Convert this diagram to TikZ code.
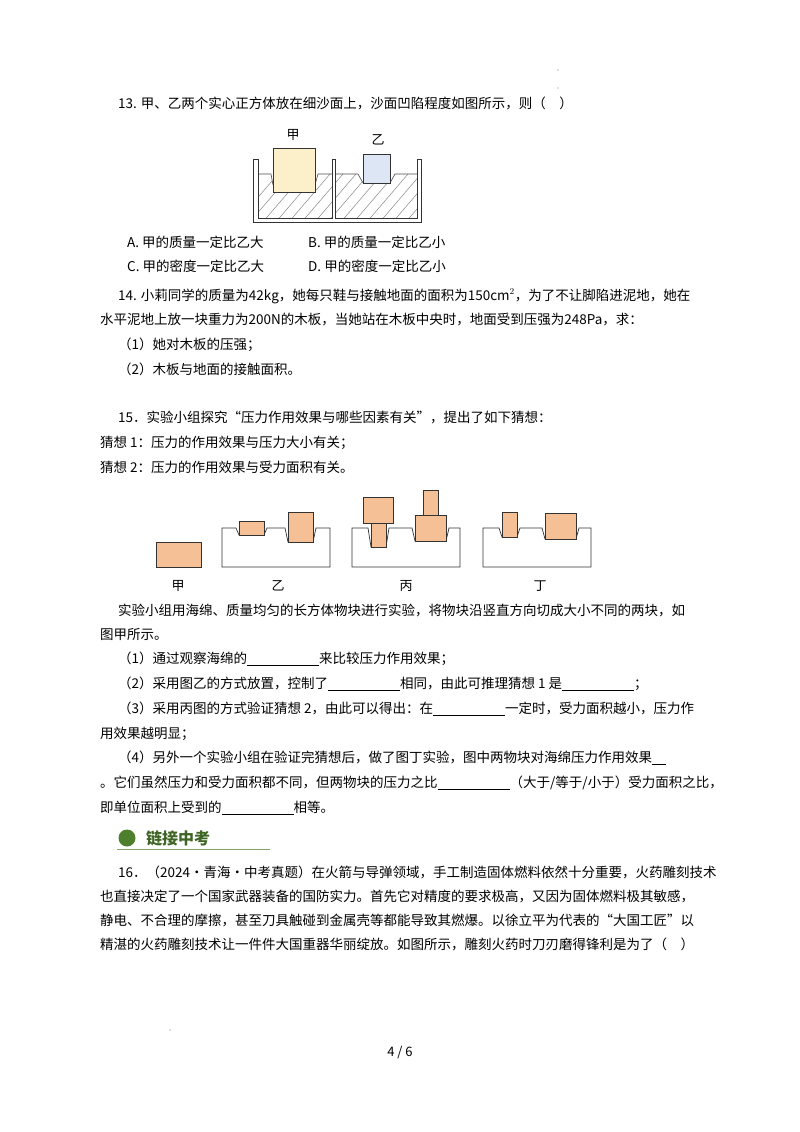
\documentclass[tikz,border=0pt]{standalone}
\usepackage{fontspec}
\setmainfont{Noto Sans CJK SC}
\newcommand{\blk}[1]{\rule[-2.5pt]{#1pt}{0.6pt}}
\definecolor{orng}{HTML}{F5C095}
\definecolor{ylw}{HTML}{FCF0CA}
\definecolor{blu}{HTML}{DCE6F4}
\definecolor{gr}{HTML}{4E7F2C}
\begin{document}
\begin{tikzpicture}[x=1pt,y=-1pt,
  txt/.style={anchor=west,inner sep=0pt,font=\fontsize{13.5pt}{16pt}\selectfont},
  lab/.style={inner sep=0pt,font=\fontsize{13pt}{15pt}\selectfont},
  blok/.style={draw=black!80,line width=0.8pt},
  spg/.style={draw=black!80,line width=0.7pt,fill=white}]
\useasboundingbox (0,0) rectangle (800,1132);
\fill[white] (0,0) rectangle (800,1132);
\fill[black!50] (558,70) circle (0.6) (558,88) circle (0.6) (170,1030) circle (0.6);
\node[txt] (q13) at (118,103) {13. 甲、乙两个实心正方体放在细沙面上，沙面凹陷程度如图所示，则（\quad）};
% fig 13
\begin{scope}
\clip (258,174)--(271,174)--(273,185)--(273,192)--(315,192)--(315,185)--(318,174)--(332,174)--(332,218)--(258,218)--cycle
 (335,174)--(358,174)--(363,183)--(390,183)--(395,174)--(417,174)--(417,218)--(335,218)--cycle;
\foreach \i in {0,...,16} \draw[black!45,line width=0.5] (230+13*\i,230)--(290+13*\i,160);
\end{scope}
\draw[black!70,line width=0.6] (258,174)--(271,174)--(273,185) (315,185)--(318,174)--(332,174);
\draw[black!70,line width=0.6] (335,174)--(358,174)--(363,183) (390,183)--(395,174)--(417,174);
\draw[black!80,line width=0.7] (253,159)--(253,222)--(421,222)--(421,159)--(417,159)--(417,218)--(335,218)--(335,159)--(332,159)--(332,218)--(258,218)--(258,159)--cycle;
\node[blok,fill=ylw,minimum width=42pt,minimum height=44pt,inner sep=0pt] (jia) at (294,170) {};
\node[blok,fill=blu,minimum width=27pt,minimum height=29pt,inner sep=0pt] (yi) at (376.5,168.5) {};
\node[lab] (lj) at (293,135) {甲};
\node[lab] (ly) at (378,140) {乙};
\node[txt] (oa) at (127,242) {A. 甲的质量一定比乙大};
\node[txt] (ob) at (308,242) {B. 甲的质量一定比乙小};
\node[txt] (oc) at (127,266) {C. 甲的密度一定比乙大};
\node[txt] (od) at (308,266) {D. 甲的密度一定比乙小};
\node[txt] (q14) at (118,296) {14. 小莉同学的质量为42kg，她每只鞋与接触地面的面积为150cm$^2$，为了不让脚陷进泥地，她在};
\node[txt] (q14b) at (100,320) {水平泥地上放一块重力为200N的木板，当她站在木板中央时，地面受到压强为248Pa，求：};
\node[txt] (q14c) at (118,345) {（1）她对木板的压强；};
\node[txt] (q14d) at (118,369) {（2）木板与地面的接触面积。};
\node[txt] (q15) at (118,418) {15．实验小组探究“压力作用效果与哪些因素有关”，提出了如下猜想：};
\node[txt] (g1) at (100,443) {猜想 1：压力的作用效果与压力大小有关；};
\node[txt] (g2) at (100,467) {猜想 2：压力的作用效果与受力面积有关。};
% fig 15
\node[blok,fill=orng,minimum width=45pt,minimum height=25pt,inner sep=0pt] (b0) at (178.5,554.5) {};
\draw[spg] (222,528)--(236,528)--(239,535)--(264,535)--(267,528)--(285,528)--(288,542)--(313,542)--(316,528)--(330,528)--(330,567)--(222,567)--cycle;
\fill[blok,fill=orng,draw=black!80] (239,521) rectangle (264,535);
\fill[blok,fill=orng,draw=black!80] (288,512) rectangle (313,542);
\draw[spg] (352,528)--(368,528)--(371,547)--(386,547)--(389,528)--(412,528)--(415,541)--(446,541)--(449,528)--(460,528)--(460,567)--(352,567)--cycle;
\fill[blok,fill=orng,draw=black!80] (371,523) rectangle (386,547);
\fill[blok,fill=orng,draw=black!80] (363,497) rectangle (393,523);
\fill[blok,fill=orng,draw=black!80] (415,515) rectangle (446,541);
\fill[blok,fill=orng,draw=black!80] (423,490) rectangle (438,515);
\draw[spg] (483,528)--(499,528)--(502,537)--(517,537)--(520,528)--(542,528)--(545,539)--(576,539)--(579,528)--(591,528)--(591,567)--(483,567)--cycle;
\fill[blok,fill=orng,draw=black!80] (502,512) rectangle (517,537);
\fill[blok,fill=orng,draw=black!80] (545,513) rectangle (576,539);
\node[lab] (l1) at (178,586) {甲};
\node[lab] (l2) at (278,586) {乙};
\node[lab] (l3) at (406,586) {丙};
\node[lab] (l4) at (540,586) {丁};
\node[txt] (t1) at (118,610) {实验小组用海绵、质量均匀的长方体物块进行实验，将物块沿竖直方向切成大小不同的两块，如};
\node[txt] (t2) at (100,634) {图甲所示。};
\node[txt] (p1) at (118,659) {（1）通过观察海绵的\blk{72}来比较压力作用效果；};
\node[txt] (p2) at (118,684) {（2）采用图乙的方式放置，控制了\blk{72}相同，由此可推理猜想 1 是\blk{72}；};
\node[txt] (p3) at (118,709) {（3）采用丙图的方式验证猜想 2，由此可以得出：在\blk{72}一定时，受力面积越小，压力作};
\node[txt] (p3b) at (100,734) {用效果越明显；};
\node[txt] (p4) at (118,758) {（4）另外一个实验小组在验证完猜想后，做了图丁实验，图中两物块对海绵压力作用效果\blk{14}};
\node[txt] (p4b) at (100,783) {。它们虽然压力和受力面积都不同，但两物块的压力之比\blk{72}（大于/等于/小于）受力面积之比，};
\node[txt] (p4c) at (100,808) {即单位面积上受到的\blk{72}相等。};
\draw[gr!70,line width=0.8] (117,849)--(270,849);
\fill[gr] (127,838) circle (8.5);
\node[txt,font=\fontsize{16pt}{18pt}\selectfont\bfseries,text=gr!80!black] (hd) at (146,838) {链接中考};
\node[txt] (q16) at (118,872) {16．（2024·青海·中考真题）在火箭与导弹领域，手工制造固体燃料依然十分重要，火药雕刻技术};
\node[txt] (q16b) at (100,896) {也直接决定了一个国家武器装备的国防实力。首先它对精度的要求极高，又因为固体燃料极其敏感，};
\node[txt] (q16c) at (100,920) {静电、不合理的摩擦，甚至刀具触碰到金属壳等都能导致其燃爆。以徐立平为代表的“大国工匠”以};
\node[txt] (q16d) at (100,944) {精湛的火药雕刻技术让一件件大国重器华丽绽放。如图所示，雕刻火药时刀刃磨得锋利是为了（\quad）};
\node[lab] (pg) at (400,1052) {4 / 6};
\end{tikzpicture}
\end{document}
